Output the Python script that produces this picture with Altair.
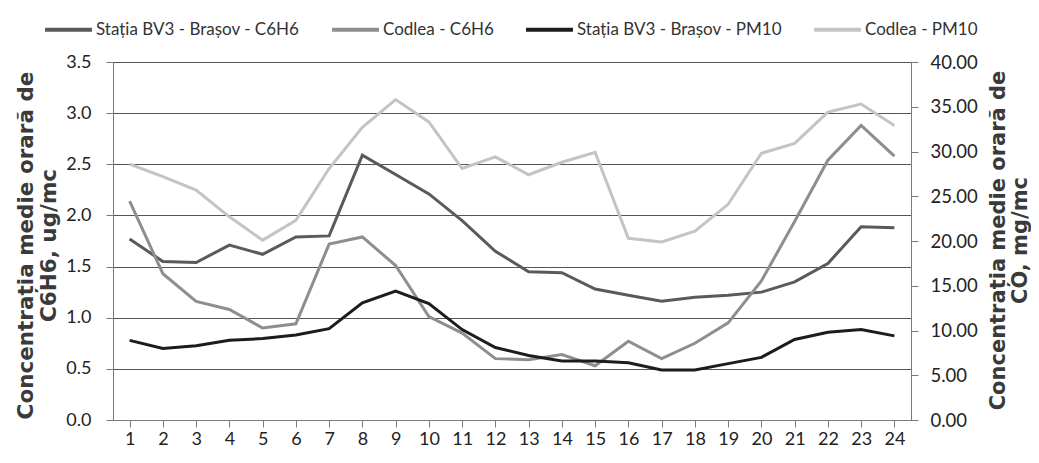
import altair as alt
import pandas as pd

hours = list(range(1, 25))

brasov_c6h6 = [1.77, 1.55, 1.54, 1.71, 1.62, 1.79, 1.80, 2.59, 2.40, 2.21, 1.95, 1.65,
               1.45, 1.44, 1.28, 1.22, 1.16, 1.20, 1.22, 1.25, 1.35, 1.53, 1.89, 1.88]
codlea_c6h6 = [2.14, 1.43, 1.16, 1.08, 0.90, 0.94, 1.72, 1.79, 1.51, 1.01, 0.85, 0.60,
               0.59, 0.64, 0.53, 0.77, 0.60, 0.75, 0.95, 1.36, 1.94, 2.54, 2.88, 2.58]
brasov_pm10 = [8.9, 8.0, 8.3, 8.9, 9.1, 9.5, 10.2, 13.1, 14.4, 13.0, 10.1, 8.1,
               7.2, 6.6, 6.6, 6.4, 5.6, 5.6, 6.3, 7.0, 9.0, 9.8, 10.1, 9.4]
codlea_pm10 = [28.6, 27.2, 25.7, 22.7, 20.1, 22.3, 28.1, 32.7, 35.8, 33.3, 28.1, 29.4,
               27.4, 28.8, 29.9, 20.3, 19.9, 21.1, 24.1, 29.8, 30.9, 34.4, 35.3, 32.9]

series_names = ["Stația BV3 - Brașov - C6H6", "Codlea - C6H6",
                "Stația BV3 - Brașov - PM10", "Codlea - PM10"]
series_colors = ["#5a5a5a", "#8e8e8e", "#1c1c1c", "#c4c4c4"]

left_ticks = [0, 0.5, 1.0, 1.5, 2.0, 2.5, 3.0, 3.5]
right_ticks = [0, 5, 10, 15, 20, 25, 30, 35, 40]

left_title = ["Concentrația medie orară de", "C6H6, ug/mc"]
right_title = ["Concentrația medie orară de", "CO, mg/mc"]

rows_left = []
for name, vals in [(series_names[0], brasov_c6h6), (series_names[1], codlea_c6h6)]:
    for h, v in zip(hours, vals):
        rows_left.append({"hour": h, "value": v, "series": name})
rows_right = []
for name, vals in [(series_names[2], brasov_pm10), (series_names[3], codlea_pm10)]:
    for h, v in zip(hours, vals):
        rows_right.append({"hour": h, "value": v, "series": name})
df_left = pd.DataFrame(rows_left)
df_right = pd.DataFrame(rows_right)

AXC = "#7a7a7a"
LBL_FONT = "Lato"
TTL_FONT = "DejaVu Sans"

xscale = alt.Scale(paddingInner=0, paddingOuter=0)

color = alt.Color(
    "series:N",
    scale=alt.Scale(domain=series_names, range=series_colors),
    legend=alt.Legend(
        title=None, orient="none", legendX=-70, legendY=-58,
        direction="horizontal", columns=4, columnPadding=24,
        symbolType="stroke", symbolSize=2200, symbolStrokeWidth=4,
        labelFont=LBL_FONT, labelFontSize=17, labelColor="#333",
        labelOffset=2, labelLimit=400,
    ),
)

left = alt.Chart(df_left).mark_line(strokeWidth=3).encode(
    x=alt.X("hour:O", scale=xscale,
            axis=alt.Axis(title=None, labelAngle=0, ticks=False, tickSize=0,
                          domainColor=AXC, labelFont=LBL_FONT, labelFontSize=18,
                          labelColor="#222", labelPadding=10, grid=False,
                          orient="bottom")),
    y=alt.Y("value:Q", scale=alt.Scale(domain=[0, 3.5], nice=False),
            axis=alt.Axis(values=left_ticks, format=".1f", title=left_title,
                          titleFont=TTL_FONT, titleFontSize=21.5,
                          titleFontWeight="bold", titleColor="#3a3a3a",
                          titleAngle=270, titleAlign="center", titleBaseline="top",
                          titleX=-98, titleY=183, titleLineHeight=23,
                          labelFont=LBL_FONT, labelFontSize=18, labelColor="#222",
                          labelPadding=15, tickSize=7, tickColor=AXC,
                          domainColor=AXC, gridColor="#555", gridWidth=1,
                          grid=True, orient="left")),
    color=color,
)

right = alt.Chart(df_right).mark_line(strokeWidth=3).encode(
    x=alt.X("hour:O", scale=xscale,
            axis=alt.Axis(title=None, labels=False, domain=False, ticks=True,
                          tickSize=7, bandPosition=0, tickColor=AXC, grid=False,
                          orient="bottom")),
    y=alt.Y("value:Q", scale=alt.Scale(domain=[0, 40], nice=False),
            axis=alt.Axis(values=right_ticks, format=".2f", title=right_title,
                          titleFont=TTL_FONT, titleFontSize=21,
                          titleFontWeight="bold", titleColor="#3a3a3a",
                          titleAngle=270, titleAlign="center", titleBaseline="top",
                          titleX=76, titleY=178, titleLineHeight=22,
                          labelFont=LBL_FONT, labelFontSize=18.5, labelColor="#222",
                          labelPadding=12, tickSize=7, tickColor=AXC,
                          domainColor=AXC, grid=False, orient="right")),
    color=color,
)

chart = alt.layer(left, right).resolve_scale(y="independent").resolve_axis(
    x="independent", y="independent"
).properties(
    width=798, height=358,
    autosize=alt.AutoSizeParams(type="none"),
    padding={"left": 105, "top": 54, "right": 120, "bottom": 35},
    background="white",
).configure_view(stroke=None)

chart.save("out.html", embed_options={"renderer": "svg", "actions": False})
